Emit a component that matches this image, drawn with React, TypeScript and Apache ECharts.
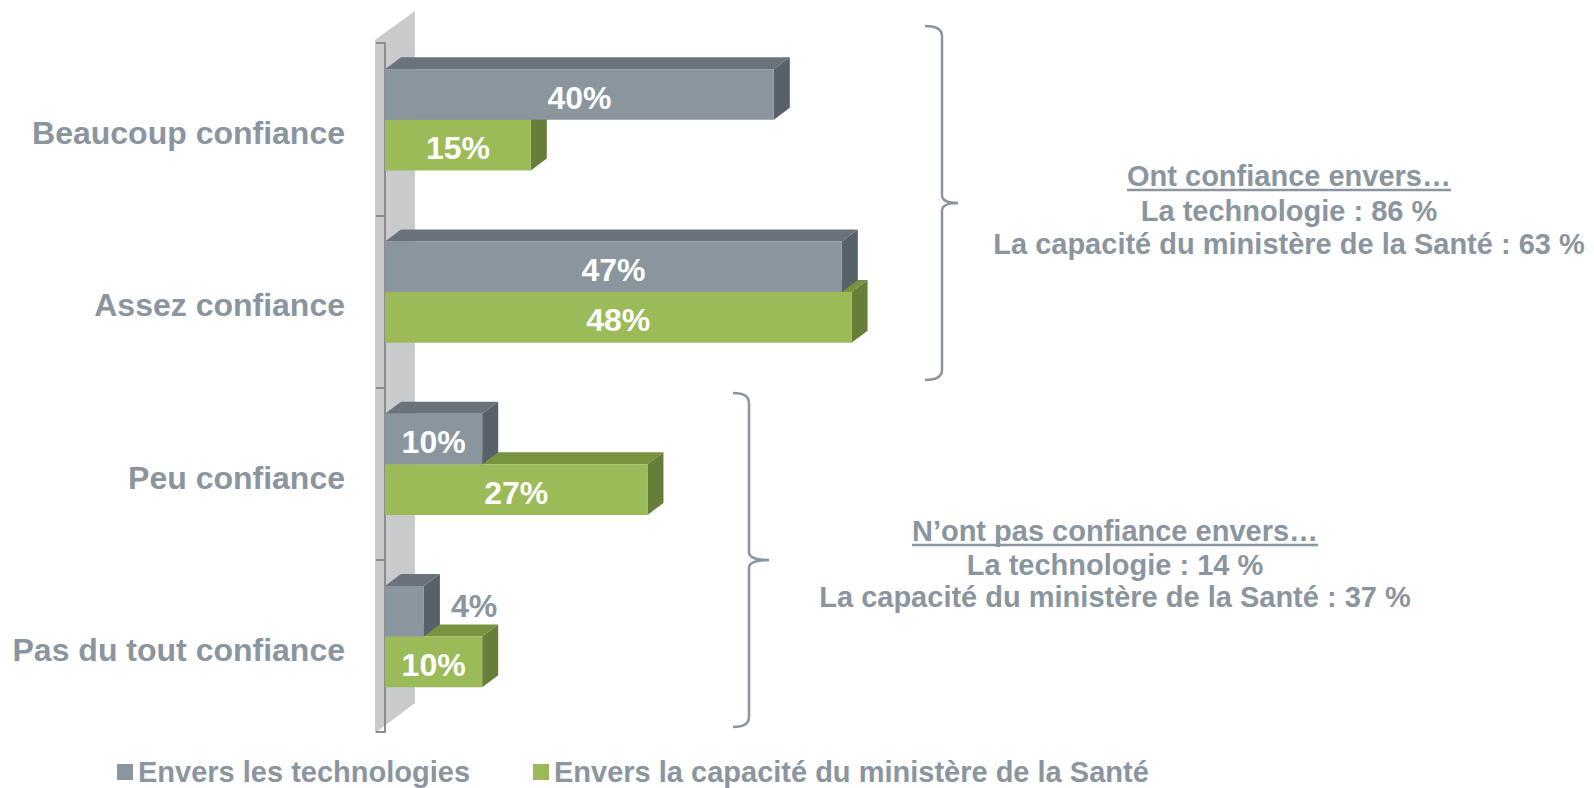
import React, { useEffect, useRef } from 'react';
import * as echarts from 'echarts';

const categories = ['Beaucoup confiance', 'Assez confiance', 'Peu confiance', 'Pas du tout confiance'];
const techValues = [40, 47, 10, 4];
const santeValues = [15, 48, 27, 10];
const seriesNames = ['Envers les technologies', 'Envers la capacité du ministère de la Santé'];
const topNoteLines = ['Ont confiance envers…', 'La technologie : 86 %', 'La capacité du ministère de la Santé : 63 %'];
const bottomNoteLines = ['N’ont pas confiance envers…', 'La technologie : 14 %', 'La capacité du ministère de la Santé : 37 %'];

const FONT = '"Liberation Sans", Arial, Helvetica, sans-serif';
const TEXT = '#8A959F';
const AXIS = '#8C8C8C';
const DX = 16;
const DY = 12;
const COLORS: Record<string, { front: string; top: string; side: string }> = {
  tech: { front: '#8A959E', top: '#6A737C', side: '#586069' },
  sante: { front: '#9BBB59', top: '#77933D', side: '#657E38' },
};

function makeRender(kind: 'tech' | 'sante') {
  const c = COLORS[kind];
  return (params: any, api: any) => {
    const v = api.value(0);
    const ci = api.value(1);
    const base = api.coord([0, ci]);
    const end = api.coord([v, ci]);
    const band = api.size([0, 1])[1];
    const h = band * 0.294;
    const shift = band * 0.054;
    const yTop = kind === 'tech' ? base[1] - shift - h : base[1] - shift;
    const x0 = base[0];
    const x1 = end[0];
    const w = x1 - x0;
    const inside = w > 60;
    return {
      type: 'group',
      children: [
        {
          type: 'polygon',
          shape: { points: [[x0, yTop], [x0 + DX, yTop - DY], [x1 + DX, yTop - DY], [x1, yTop]] },
          style: { fill: c.top },
        },
        {
          type: 'polygon',
          shape: { points: [[x1, yTop], [x1 + DX, yTop - DY], [x1 + DX, yTop + h - DY], [x1, yTop + h]] },
          style: { fill: c.side },
        },
        { type: 'rect', shape: { x: x0, y: yTop, width: w, height: h }, style: { fill: c.front } },
        {
          type: 'text',
          x: inside ? x0 + w / 2 : x1 + DX + 11,
          y: inside ? yTop + h / 2 + 3 : yTop + h / 2 - DY / 2 + 1,
          style: {
            text: v + '%',
            fill: inside ? '#FFFFFF' : TEXT,
            fontSize: 32,
            fontWeight: 'bold',
            fontFamily: FONT,
            align: inside ? 'center' : 'left',
            verticalAlign: 'middle',
          },
        },
      ],
    };
  };
}

function measure(text: string, size: number) {
  const cv = document.createElement('canvas');
  const ctx = cv.getContext('2d');
  if (!ctx) return text.length * size * 0.55;
  ctx.font = `bold ${size}px ${FONT}`;
  return ctx.measureText(text).width;
}

function noteGroup(lines: string[], cx: number, ys: number[], underlineY: number) {
  const size = 29;
  const uw = measure(lines[0], size);
  const els: any[] = lines.map((t, i) => ({
    type: 'text',
    x: cx,
    y: ys[i],
    style: {
      text: t,
      fill: TEXT,
      fontSize: size,
      fontWeight: 'bold',
      fontFamily: FONT,
      align: 'center',
      verticalAlign: 'middle',
    },
  }));
  els.push({
    type: 'line',
    shape: { x1: cx - uw / 2, y1: underlineY, x2: cx + uw / 2, y2: underlineY },
    style: { stroke: TEXT, lineWidth: 2.5 },
  });
  return els;
}

function bracket(x: number, yTop: number, yMid: number, yBot: number, hook: number, tip: number) {
  const st = { stroke: TEXT, lineWidth: 2.5, fill: null as any };
  return [
    { type: 'bezierCurve', shape: { x1: x - hook, y1: yTop, cpx1: x, cpy1: yTop, x2: x, y2: yTop + 10 }, style: st },
    { type: 'line', shape: { x1: x, y1: yTop + 10, x2: x, y2: yMid - 7 }, style: st },
    { type: 'bezierCurve', shape: { x1: x, y1: yMid - 7, cpx1: x + 1, cpy1: yMid, x2: x + tip, y2: yMid }, style: st },
    { type: 'bezierCurve', shape: { x1: x + tip, y1: yMid, cpx1: x + 1, cpy1: yMid, x2: x, y2: yMid + 7 }, style: st },
    { type: 'line', shape: { x1: x, y1: yMid + 7, x2: x, y2: yBot - 10 }, style: st },
    { type: 'bezierCurve', shape: { x1: x, y1: yBot - 10, cpx1: x, cpy1: yBot, x2: x - hook, y2: yBot }, style: st },
  ];
}

export default function App() {
  const ref = useRef<HTMLDivElement>(null);
  useEffect(() => {
    if (!ref.current) return;
    const chart = echarts.init(ref.current, undefined, { renderer: 'svg' });
    const legendText = { fontSize: 29, fontWeight: 'bold', color: TEXT, fontFamily: FONT, lineHeight: 30 };
    chart.setOption({
      animation: false,
      backgroundColor: '#FFFFFF',
      grid: { left: 385, top: 43, width: 486, height: 689, outerBoundsMode: 'none' },
      xAxis: { type: 'value', min: 0, max: 50, show: false },
      yAxis: {
        type: 'category',
        data: categories,
        inverse: true,
        offset: 13,
        axisLine: { show: true, lineStyle: { color: AXIS, width: 2 } },
        axisTick: { show: true, length: 9, lineStyle: { color: AXIS, width: 2 } },
        axisLabel: {
          margin: 27,
          fontSize: 32,
          fontWeight: 'bold',
          color: TEXT,
          fontFamily: FONT,
          verticalAlign: 'top',
          lineHeight: 8,
        },
        splitLine: { show: false },
      },
      legend: [
        {
          data: [{ name: seriesNames[0], icon: 'rect' }],
          left: 112,
          top: 752,
          itemWidth: 16,
          itemHeight: 16,
          selectedMode: false,
          textStyle: legendText,
        },
        {
          data: [{ name: seriesNames[1], icon: 'rect' }],
          left: 528,
          top: 752,
          itemWidth: 16,
          itemHeight: 16,
          selectedMode: false,
          textStyle: legendText,
        },
      ],
      graphic: [
        {
          type: 'polygon',
          z: 0,
          shape: { points: [[375, 40], [415, 11], [415, 703], [375, 733]] },
          style: { fill: '#C9CACC' },
        },
        ...bracket(942, 26, 203, 380, 17, 16),
        ...bracket(749, 393, 560, 727, 16, 20),
        ...noteGroup(topNoteLines, 1289, [176, 211, 244], 190),
        ...noteGroup(bottomNoteLines, 1115, [531, 565, 597], 545),
      ],
      series: [
        {
          name: seriesNames[1],
          type: 'custom',
          renderItem: makeRender('sante'),
          data: santeValues.map((v, i) => [v, i]),
          encode: { x: 0, y: 1 },
          z: 2,
          itemStyle: { color: COLORS.sante.front },
        },
        {
          name: seriesNames[0],
          type: 'custom',
          renderItem: makeRender('tech'),
          data: techValues.map((v, i) => [v, i]),
          encode: { x: 0, y: 1 },
          z: 3,
          itemStyle: { color: COLORS.tech.front },
        },
      ],
    });
    return () => chart.dispose();
  }, []);
  return <div ref={ref} style={{ position: 'fixed', left: 0, top: 0, width: 1594, height: 788 }} />;
}
